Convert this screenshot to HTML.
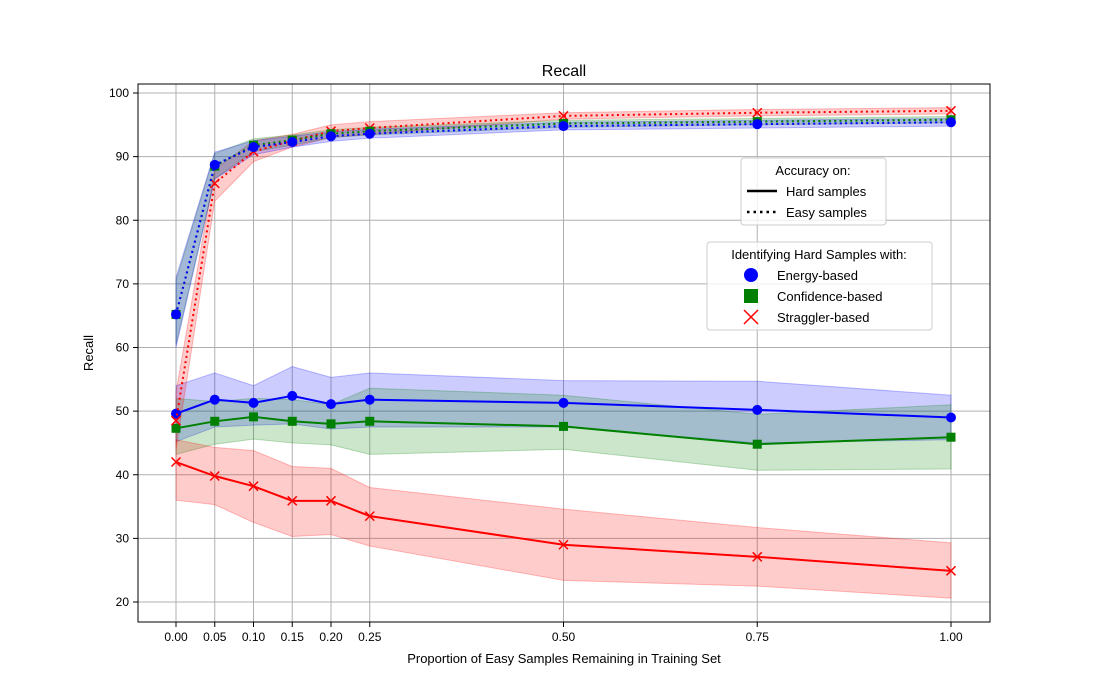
<!DOCTYPE html>
<html><head><meta charset="utf-8"><style>
body{margin:0;background:#fff;}
svg{display:block;font-family:"Liberation Sans","DejaVu Sans",sans-serif;}
</style></head><body>
<svg id="chart" width="1100" height="700">
<rect x="0" y="0" width="1100" height="700" fill="#fff"/>
<g id="grid"></g><g id="bands"></g><g id="lines"></g><g id="axes"></g>
<text x="564" y="76" font-size="16" text-anchor="middle">Recall</text>
<text x="564" y="663" font-size="13" text-anchor="middle">Proportion of Easy Samples Remaining in Training Set</text>
<text x="93" y="353" font-size="13" text-anchor="middle" transform="rotate(-90 93 353)">Recall</text>
<g>
<rect x="741" y="158" width="145" height="67" rx="3" fill="#fff" fill-opacity="0.8" stroke="#ccc"/>
<text x="813" y="175" font-size="13" text-anchor="middle">Accuracy on:</text>
<line x1="747" y1="191" x2="777" y2="191" stroke="#000" stroke-width="2.5"/>
<text x="786" y="196" font-size="13">Hard samples</text>
<line x1="747" y1="212" x2="777" y2="212" stroke="#000" stroke-width="2.5" stroke-dasharray="2.5,4"/>
<text x="786" y="217" font-size="13">Easy samples</text>
</g>
<g>
<rect x="707" y="242" width="225" height="88" rx="3" fill="#fff" fill-opacity="0.8" stroke="#ccc"/>
<text x="819" y="259" font-size="13" text-anchor="middle">Identifying Hard Samples with:</text>
<circle cx="751" cy="275" r="7" fill="#0000ff"/>
<text x="777" y="280" font-size="13">Energy-based</text>
<rect x="744" y="289" width="14" height="14" fill="#008000"/>
<text x="777" y="301" font-size="13">Confidence-based</text>
<path d="M744 310 L758 324 M758 310 L744 324" stroke="#ff0000" stroke-width="1.5"/>
<text x="777" y="322" font-size="13">Straggler-based</text>
</g>
</svg>
<script>
const xs=[0,0.05,0.1,0.15,0.2,0.25,0.5,0.75,1.0];
const xTickLabels=["0.00","0.05","0.10","0.15","0.20","0.25","0.50","0.75","1.00"];
const yTicks=[20,30,40,50,60,70,80,90,100];
const hardEnergy=[49.6,51.8,51.3,52.4,51.1,51.8,51.3,50.2,49.0];
const hardEnergyHi=[54,56,54,57,55.3,56,54.8,54.7,52.5];
const hardEnergyLo=[45.2,47.5,47.8,48,47.2,47.5,47.5,45,45.5];
const hardConf=[47.3,48.4,49.1,48.4,48.0,48.4,47.6,44.8,45.9];
const hardConfHi=[52,51.5,52,51.8,51,53.6,52.5,49.5,51];
const hardConfLo=[43.2,44.8,45.6,45,44.7,43.2,44,40.7,40.9];
const hardStrag=[42.0,39.8,38.2,35.9,35.9,33.5,29.0,27.1,24.9];
const hardStragHi=[45.5,44.3,43.8,41.3,41.0,38.0,34.6,31.7,29.3];
const hardStragLo=[36,35.3,32.5,30.3,30.6,28.8,23.4,22.5,20.6];
const easyEnergy=[65.2,88.7,91.5,92.3,93.2,93.6,94.8,95.1,95.4];
const easyEnergyHi=[71,90.7,92.5,93.2,93.9,94.3,95.4,95.7,96];
const easyEnergyLo=[60,86.5,90.3,91.5,92.4,92.9,94.2,94.5,94.8];
const easyConf=[65.2,88.5,91.8,92.6,93.6,94.0,95.2,95.5,95.8];
const easyConfHi=[70.5,90.5,92.8,93.4,94.2,94.6,95.7,96,96.3];
const easyConfLo=[60.5,86.5,90.8,91.8,93,93.4,94.6,95,95.3];
const easyStrag=[48.5,85.8,90.8,92.5,94.0,94.5,96.4,96.9,97.2];
const easyStragHi=[53,88,92.5,93.5,95,95.5,96.9,97.4,97.7];
const easyStragLo=[44,83,89.2,91.5,93,93.5,95.9,96.4,96.7];

const X=v=>176+775*v;
const Y=v=>602-(v-20)*6.3625;
const NS="http://www.w3.org/2000/svg";
function mk(tag,attrs,parent){const e=document.createElementNS(NS,tag);for(const k in attrs)e.setAttribute(k,attrs[k]);document.getElementById(parent).appendChild(e);return e;}
xs.forEach((v,i)=>{
 const g=mk('line',{x1:X(v),x2:X(v),y1:84,y2:622,stroke:'#b0b0b0','stroke-width':1},'grid');
 
 
 mk('line',{x1:X(v),x2:X(v),y1:622,y2:627,stroke:'#000'},'axes');
 const t=mk('text',{x:X(v),y:641,'font-size':12,'text-anchor':'middle'},'axes');t.textContent=xTickLabels[i];
 
 
});
yTicks.forEach(v=>{
 const g=mk('line',{x1:138,x2:990,y1:Y(v),y2:Y(v),stroke:'#b0b0b0','stroke-width':1},'grid');
 
 
 mk('line',{x1:133,x2:138,y1:Y(v),y2:Y(v),stroke:'#000'},'axes');
 const t=mk('text',{x:129,y:Y(v)+4,'font-size':12,'text-anchor':'end'},'axes');t.textContent=v;
 
 
});
const fr=mk('rect',{x:138,y:84,width:852,height:538,fill:'none',stroke:'#000','stroke-width':1},'axes');


const series=[
 [hardEnergy,hardEnergyHi,hardEnergyLo,'#0000ff','o',false,'hard-energy'],
 [hardConf,hardConfHi,hardConfLo,'#008000','s',false,'hard-confidence'],
 [hardStrag,hardStragHi,hardStragLo,'#ff0000','x',false,'hard-straggler'],
 [easyStrag,easyStragHi,easyStragLo,'#ff0000','x',true,'easy-straggler'],
 [easyConf,easyConfHi,easyConfLo,'#008000','s',true,'easy-confidence'],
 [easyEnergy,easyEnergyHi,easyEnergyLo,'#0000ff','o',true,'easy-energy']];
series.forEach(([m,hi,lo,c,mkr,dot,name])=>{
 let d='';xs.forEach((v,i)=>d+=(i?'L':'M')+X(v)+' '+Y(hi[i]));
 for(let i=xs.length-1;i>=0;i--)d+='L'+X(xs[i])+' '+Y(lo[i]);
 const b=mk('path',{d:d+'Z',fill:c,'fill-opacity':0.2,stroke:c,'stroke-opacity':0.25},'bands');
 
 
});
series.forEach(([m,hi,lo,c,mkr,dot,name])=>{
 const pts=xs.map((v,i)=>X(v)+','+Y(m[i])).join(' ');
 const l=mk('polyline',{points:pts,fill:'none',stroke:c,'stroke-width':2,'stroke-dasharray':dot?'2,3.3':'none'},'lines');
 
 
 xs.forEach((v,i)=>{
  const cx=X(v),cy=Y(m[i]);let e;
  if(mkr==='o')e=mk('circle',{cx:cx,cy:cy,r:5,fill:c},'lines');
  else if(mkr==='s')e=mk('rect',{x:cx-4.5,y:cy-4.5,width:9,height:9,fill:c},'lines');
  else e=mk('path',{d:`M${cx-4.5} ${cy-4.5}L${cx+4.5} ${cy+4.5}M${cx+4.5} ${cy-4.5}L${cx-4.5} ${cy+4.5}`,stroke:c,'stroke-width':1.5},'lines');
  
  
 });
});
</script>
</body></html>
